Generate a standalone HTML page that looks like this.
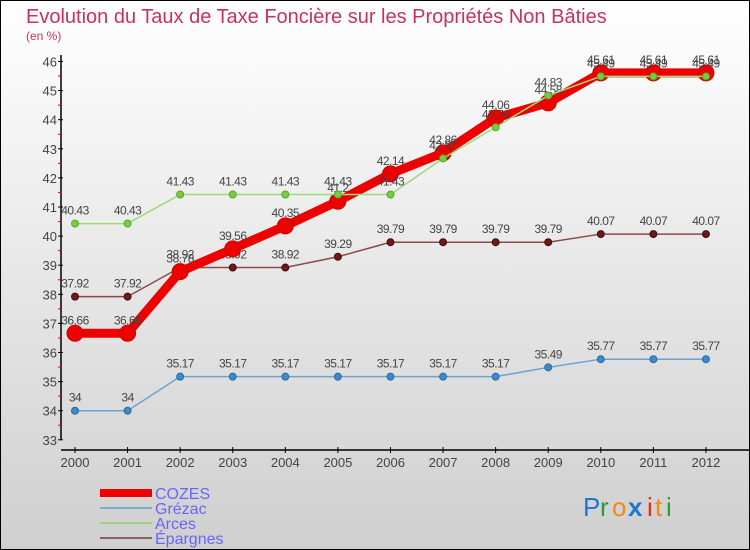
<!DOCTYPE html>
<html><head><meta charset="utf-8"><style>
body{margin:0;}
#c{width:750px;height:550px;position:relative;overflow:hidden;}
svg text{font-family:"Liberation Sans",sans-serif;}
</style></head><body>
<div id="c">
<svg id="s" width="750" height="550" xmlns="http://www.w3.org/2000/svg">
<defs><linearGradient id="bg" x1="0" y1="0" x2="0" y2="1"><stop offset="0" stop-color="#ffffff"/><stop offset="1" stop-color="#cfcfcf"/></linearGradient></defs>
<rect x="0.5" y="0.5" width="749" height="549" fill="url(#bg)" stroke="#000"/>
<text x="26" y="23" font-size="20" fill="#c8325a">Evolution du Taux de Taxe Foncière sur les Propriétés Non Bâties</text>
<text x="26" y="40" font-size="12" fill="#c8325a">(en %)</text>
<g id="axes"></g>
<g id="series"></g>
<g id="legend">
<rect x="100" y="489" width="52" height="8" fill="#ee0000"/>
<text x="155" y="499" font-size="16" fill="#6666ff">COZES</text>
<line x1="100" y1="508" x2="152" y2="508" stroke="#7aaad0" stroke-width="2"/>
<text x="155" y="514" font-size="16" fill="#6666ff">Grézac</text>
<line x1="100" y1="523" x2="152" y2="523" stroke="#9fd080" stroke-width="2"/>
<text x="155" y="529" font-size="16" fill="#6666ff">Arces</text>
<line x1="100" y1="538" x2="152" y2="538" stroke="#8a6060" stroke-width="2"/>
<text x="155" y="544" font-size="16" fill="#6666ff">Épargnes</text>
</g>
<g font-size="26" font-family="Liberation Sans,sans-serif">
<text x="583" y="516" fill="#1a78d0">P</text><text x="600" y="516" fill="#2a9a3a">r</text><text x="612" y="516" fill="#f08a10">o</text><text x="628" y="516" fill="#1a78d0" font-weight="bold">x</text><text x="647" y="516" fill="#e03010">i</text><text x="655" y="516" fill="#f08a10">t</text><text x="666" y="516" fill="#2a9a3a">i</text>
</g>
</svg></div>
<script>
const years=[2000,2001,2002,2003,2004,2005,2006,2007,2008,2009,2010,2011,2012];
const cozes=[36.66,36.66,38.78,39.56,40.35,41.2,42.14,42.86,44.06,44.58,45.61,45.61,45.61];
const grezac=[34,34,35.17,35.17,35.17,35.17,35.17,35.17,35.17,35.49,35.77,35.77,35.77];
const arces=[40.43,40.43,41.43,41.43,41.43,41.43,41.43,42.67,43.74,44.83,45.49,45.49,45.49];
const epargnes=[37.92,37.92,38.92,38.92,38.92,39.29,39.79,39.79,39.79,39.79,40.07,40.07,40.07];
const yTicks=[33,34,35,36,37,38,39,40,41,42,43,44,45,46];
const NS="http://www.w3.org/2000/svg";
function X(i){return 75+i*52.58;}
function Y(v){return 207-(v-41)*29.1;}
function mk(t,a,p){const e=document.createElementNS(NS,t);for(const k in a)e.setAttribute(k,a[k]);p.appendChild(e);return e;}
const ax=document.getElementById('axes');
let l=mk('line',{x1:61,y1:55,x2:61,y2:Y(33),stroke:'#000','stroke-width':1.5},ax);


l=mk('line',{x1:61,y1:450,x2:750,y2:450,stroke:'#000','stroke-width':1.5},ax);


yTicks.forEach(v=>{
 mk('line',{x1:58,y1:Y(v),x2:63,y2:Y(v),stroke:'#000'},ax);
 if(v<46)mk('line',{x1:58,y1:Y(v+0.5),x2:61,y2:Y(v+0.5),stroke:'#e00'},ax);
 const t=mk('text',{x:57,y:Y(v)+5,'font-size':13,fill:'#444','text-anchor':'end'},ax);
 t.textContent=v;
 
 
});
years.forEach((y,i)=>{
 mk('line',{x1:X(i),y1:447,x2:X(i),y2:453,stroke:'#000'},ax);
 const t=mk('text',{x:X(i),y:467,'font-size':13,fill:'#444','text-anchor':'middle'},ax);
 t.textContent=y;
 
 
});
const sg=document.getElementById('series');
function draw(name,vals,color,w,r,dot,stroke){
 const g=mk('g',{},sg);
 
 
 mk('polyline',{points:vals.map((v,i)=>X(i)+','+Y(v)).join(' '),fill:'none',stroke:color,'stroke-width':w,'stroke-linejoin':'round'},g);
 vals.forEach((v,i)=>{
  const c=mk('circle',{cx:X(i),cy:Y(v),r:r,fill:dot,stroke:stroke,'stroke-width':1},g);
  
  
  const t=mk('text',{x:X(i),y:Y(v)-9,'font-size':12,fill:'#444','text-anchor':'middle','letter-spacing':'-0.5'},g);
  t.textContent=v;
  
  
 });
}
draw('grezac',grezac,'#6ea3cf',1.5,3.5,'#3a8ad0','#2a6aa0');
draw('epargnes',epargnes,'#8a4a4a',1.5,3.5,'#6a1a1a','#4a0a0a');
draw('cozes',cozes,'#ee0000',9,8,'#ee0000','#cc0000');
draw('arces',arces,'#99dd77',1.5,3.5,'#77cc44','#55aa22');
</script>
</body></html>
